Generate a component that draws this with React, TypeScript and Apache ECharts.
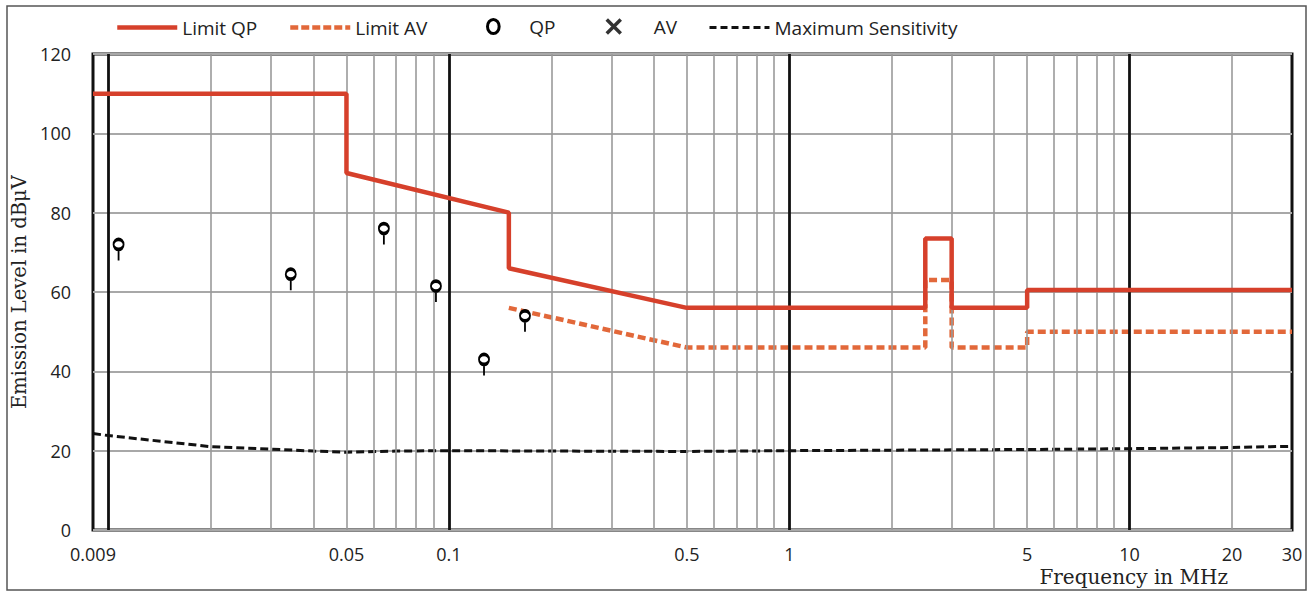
import { useEffect, useRef } from 'react';
import * as echarts from 'echarts';

// ---------- data ----------
const xTickLabels = [0.009, 0.05, 0.1, 0.5, 1, 5, 10, 20, 30];
const minorGridFreqs = [
  0.02, 0.03, 0.04, 0.05, 0.06, 0.07, 0.08, 0.09,
  0.2, 0.3, 0.4, 0.5, 0.6, 0.7, 0.8, 0.9,
  2, 3, 4, 5, 6, 7, 8, 9, 20,
];
const decadeGridFreqs = [0.01, 0.1, 1, 10];

const limitQP: [number, number][] = [
  [0.009, 110], [0.05, 110], [0.05, 90], [0.15, 80], [0.15, 66], [0.5, 56],
  [2.51, 56], [2.51, 73.5], [3, 73.5], [3, 56], [5, 56], [5, 60.5], [30, 60.5],
];
const limitAV: [number, number][] = [
  [0.15, 56], [0.5, 46], [2.51, 46], [2.51, 63], [3, 63], [3, 46], [5, 46], [5, 50], [30, 50],
];
const qpPoints: [number, number][] = [
  [0.0107, 72], [0.0343, 64.5], [0.0644, 76], [0.0916, 61.5], [0.1268, 43], [0.1673, 54],
];
const avPoints: [number, number][] = [];
const maxSensitivity: [number, number][] = [
  [0.009, 24.3], [0.01, 23.8], [0.02, 21.0], [0.03, 20.4], [0.04, 19.9], [0.05, 19.6],
  [0.07, 19.9], [0.1, 20.0], [0.2, 19.9], [0.5, 19.8], [1, 20.0], [3, 20.2], [5, 20.3],
  [10, 20.5], [20, 20.8], [30, 21.1],
];

const QP_SYMBOL = 'path://M5,0 A5,5 0 1 1 5,10 A5,5 0 1 1 5,0 Z M5,10 L5,21';
const QP_LEGEND_ICON = 'path://M5,0 A5,6 0 1 1 5,12 A5,6 0 1 1 5,0 Z';
const AV_SYMBOL = 'path://M0,0 L10,10 M10,0 L0,10';

const QP_COLOR = '#d6402b';
const AV_COLOR = '#e2683a';

export default function App() {
  const ref = useRef<HTMLDivElement>(null);
  useEffect(() => {
    if (!ref.current) return;
    const chart = echarts.init(ref.current, undefined, { renderer: 'svg' });
    const gridLines = [
      ...minorGridFreqs.map((f) => ({ xAxis: f, lineStyle: { color: '#9a9a9a', width: 1.6, type: 'solid' } })),
      ...decadeGridFreqs.map((f) => ({ xAxis: f, lineStyle: { color: '#111', width: 2.8, type: 'solid' } })),
    ];
    const legendText = { fontFamily: 'Open Sans', fontSize: 19, color: '#222' };
    const legendBase = {
      top: 18,
      padding: 0,
      itemHeight: 12,
      selectedMode: false,
      textStyle: legendText,
    };
    chart.setOption({
      animation: false,
      backgroundColor: '#fff',
      textStyle: { fontFamily: 'Open Sans' },
      graphic: [
        {
          type: 'rect',
          shape: { x: 7, y: 6, width: 1299, height: 584 },
          style: { fill: 'none', stroke: '#555', lineWidth: 1.5 },
          silent: true,
          z: -10,
        },
      ],
      grid: {
        left: 93,
        top: 54,
        width: 1199,
        height: 476,
        show: true,
        borderColor: '#111',
        borderWidth: 3,
        backgroundColor: 'transparent',
        containLabel: false,
        outerBoundsMode: 'none',
      },
      legend: [
        {
          ...legendBase,
          left: 115,
          itemWidth: 60,
          data: [{ name: 'Limit QP', itemStyle: { opacity: 0 }, lineStyle: { width: 4.5, color: QP_COLOR } }],
        },
        {
          ...legendBase,
          left: 288,
          itemWidth: 60,
          data: [{ name: 'Limit AV', itemStyle: { opacity: 0 }, lineStyle: { width: 4.5, color: AV_COLOR, type: [8, 3] } }],
        },
        {
          ...legendBase,
          top: 17,
          left: 486,
          itemWidth: 12,
          itemHeight: 14,
          textStyle: { ...legendText, padding: [0, 0, 0, 25] },
          data: [
            {
              name: 'QP',
              icon: QP_LEGEND_ICON,
              itemStyle: { color: '#fff', borderColor: '#000', borderWidth: 3 },
            },
          ],
        },
        {
          ...legendBase,
          top: 17,
          left: 605,
          itemWidth: 14,
          itemHeight: 14,
          textStyle: { ...legendText, padding: [0, 0, 0, 28] },
          data: [
            {
              name: 'AV',
              icon: AV_SYMBOL,
              itemStyle: { color: '#000', borderColor: '#000', borderWidth: 3.5 },
            },
          ],
        },
        {
          ...legendBase,
          left: 708,
          itemWidth: 60,
          data: [{ name: 'Maximum Sensitivity', itemStyle: { opacity: 0 }, lineStyle: { width: 3, color: '#111', type: [7, 4] } }],
        },
      ],
      xAxis: {
        type: 'log',
        logBase: 10,
        min: 0.009,
        max: 30,
        axisLine: { show: false },
        axisTick: { show: false },
        splitLine: { show: false },
        axisLabel: {
          customValues: xTickLabels,
          formatter: (v: number) => String(+Number(v).toPrecision(6)),
          margin: 15,
          fontSize: 18,
          color: '#222',
          showMinLabel: true,
          showMaxLabel: true,
        },
        name: 'Frequency in MHz',
        nameLocation: 'end',
        nameGap: -64,
        nameTextStyle: {
          fontFamily: 'DejaVu Serif',
          fontSize: 20,
          color: '#222',
          align: 'right',
          verticalAlign: 'top',
          padding: [37, 0, 0, 0],
        },
      },
      yAxis: {
        type: 'value',
        min: 0,
        max: 120,
        interval: 20,
        axisLine: { show: false },
        axisTick: { show: false },
        splitLine: { lineStyle: { color: '#a8a8a8', width: 2 } },
        axisLabel: { margin: 22, fontSize: 18, color: '#222' },
        name: 'Emission Level in dBμV',
        nameLocation: 'middle',
        nameGap: 62,
        nameTextStyle: { fontFamily: 'DejaVu Serif', fontSize: 19.5, color: '#222' },
      },
      series: [
        {
          type: 'line',
          name: '__grid',
          data: [],
          silent: true,
          z: 1,
          markLine: {
            silent: true,
            symbol: ['none', 'none'],
            label: { show: false },
            emphasis: { disabled: true },
            data: gridLines,
          },
        },
        {
          type: 'line',
          name: 'Maximum Sensitivity',
          data: maxSensitivity,
          symbol: 'none',
          z: 3,
          lineStyle: { color: '#111', width: 3, type: [8, 4] },
          itemStyle: { color: '#111' },
        },
        {
          type: 'line',
          name: 'Limit AV',
          data: limitAV,
          symbol: 'none',
          z: 4,
          lineStyle: { color: AV_COLOR, width: 4.5, type: [8, 4] },
          itemStyle: { color: AV_COLOR },
        },
        {
          type: 'line',
          name: 'Limit QP',
          data: limitQP,
          symbol: 'none',
          z: 5,
          lineStyle: { color: QP_COLOR, width: 4.5 },
          itemStyle: { color: QP_COLOR },
        },
        {
          type: 'scatter',
          name: 'QP',
          data: qpPoints,
          symbol: QP_SYMBOL,
          symbolSize: [10, 21],
          symbolOffset: [0, 5.5],
          z: 6,
          itemStyle: { color: '#fff', borderColor: '#000', borderWidth: 2.6, opacity: 1 },
        },
        {
          type: 'scatter',
          name: 'AV',
          data: avPoints,
          symbol: AV_SYMBOL,
          symbolSize: 12,
          z: 6,
          itemStyle: { color: '#000', borderColor: '#000', borderWidth: 3 },
        },
      ],
    });
    return () => chart.dispose();
  }, []);
  return (
    <div
      ref={ref}
      style={{ position: 'absolute', left: 0, top: 0, width: 1312, height: 594 }}
    />
  );
}
